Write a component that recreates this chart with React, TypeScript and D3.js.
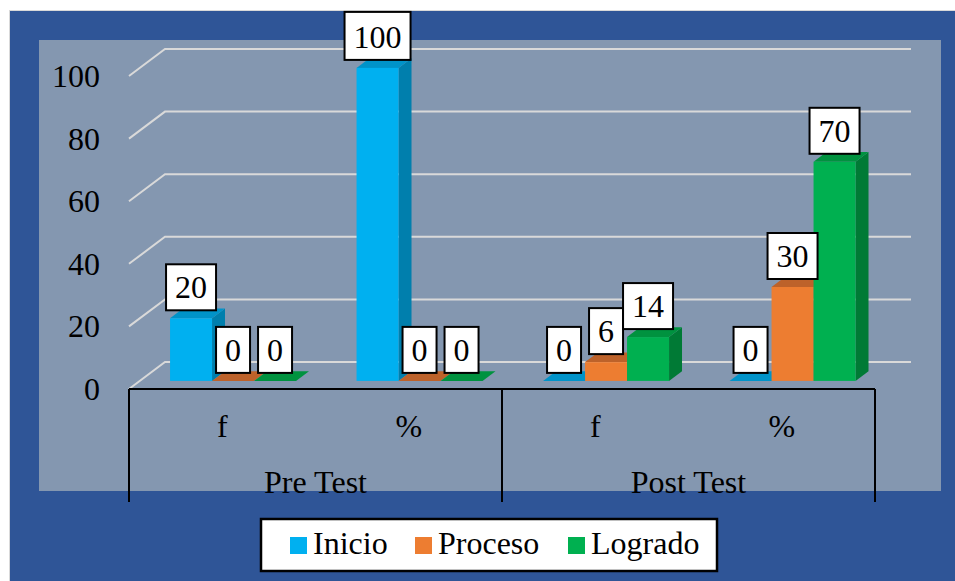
import { useEffect, useRef } from "react";
import * as d3 from "d3";

// chart data
const groups = ["Pre Test", "Post Test"];
const subCategories = ["f", "%"];
const seriesNames = ["Inicio", "Proceso", "Logrado"];
const inicio = [20, 100, 0, 0];
const proceso = [0, 0, 6, 30];
const logrado = [0, 0, 14, 70];
const yTicks = [0, 20, 40, 60, 80, 100];

const seriesColors = [
  { front: "#00B0F0", top: "#0093C9", side: "#007FAD" },
  { front: "#ED7D31", top: "#BD622A", side: "#B25C22" },
  { front: "#00B050", top: "#00923F", side: "#007A35" },
];

const W = 955;
const H = 581;
const FONT = "'Liberation Serif', 'Times New Roman', serif";

export default function App() {
  const ref = useRef<SVGSVGElement | null>(null);

  useEffect(() => {
    if (!ref.current) return;
    const svg = d3.select(ref.current);
    svg.selectAll("*").remove();

    const values = [inicio, proceso, logrado];
    const cats = groups.flatMap(g => subCategories.map(s => `${g}|${s}`));

    // depth projection (3D look)
    const DX = 36;
    const DY = 27;
    const z0 = 0.3;
    const z1 = 0.66;

    const x = d3.scaleBand().domain(cats).range([129, 875]);
    const groupW = 126;
    const x1 = d3.scaleBand().domain(seriesNames).range([0, groupW]);
    const y = d3.scaleLinear().domain([0, 100]).range([389, 76]);

    // backgrounds
    svg.append("rect").attr("x", 9).attr("y", 10).attr("width", W - 9).attr("height", H - 10).attr("fill", "#D9D9D9");
    svg.append("rect").attr("x", 10).attr("y", 11).attr("width", W - 10).attr("height", H - 11).attr("fill", "#2F5597");
    svg.append("rect").attr("x", 39).attr("y", 40).attr("width", 902).attr("height", 451).attr("fill", "#8497B0");

    // gridlines
    const x0 = x.range()[0];
    const xEnd = x.range()[1];
    svg.append("g")
      .selectAll("path")
      .data(yTicks)
      .join("path")
      .attr("d", v => `M${x0},${y(v)}L${x0 + DX},${y(v) - DY}L${xEnd + DX},${y(v) - DY}`)
      .attr("fill", "none")
      .attr("stroke", "#D9D9D9")
      .attr("stroke-width", 2);

    // y tick labels
    svg.append("g")
      .selectAll("text")
      .data(yTicks)
      .join("text")
      .attr("x", 100)
      .attr("y", v => y(v) + 11)
      .attr("text-anchor", "end")
      .attr("font-family", FONT)
      .attr("font-size", 32)
      .attr("fill", "#000")
      .text(v => String(v));

    // bars
    const bars = svg.append("g");
    const labelData: { cx: number; top: number; v: number }[] = [];
    cats.forEach((c, ci) => {
      const gx = (x(c) as number) + (x.bandwidth() - groupW) / 2;
      seriesNames.forEach((s, si) => {
        const v = values[si][ci];
        const col = seriesColors[si];
        const fx = gx + (x1(s) as number) + z0 * DX;
        const bw = x1.bandwidth();
        const yb = y(0) - z0 * DY;
        const yt = y(v) - z0 * DY;
        const ddx = (z1 - z0) * DX;
        const ddy = (z1 - z0) * DY;
        // side
        if (v > 0) {
          bars.append("path")
            .attr("d", `M${fx + bw},${yb}L${fx + bw + ddx},${yb - ddy}L${fx + bw + ddx},${yt - ddy}L${fx + bw},${yt}Z`)
            .attr("fill", col.side);
        }
        // top
        bars.append("path")
          .attr("d", `M${fx},${yt}L${fx + ddx},${yt - ddy}L${fx + bw + ddx},${yt - ddy}L${fx + bw},${yt}Z`)
          .attr("fill", col.top);
        // front
        if (v > 0) {
          bars.append("rect")
            .attr("x", fx)
            .attr("y", yt)
            .attr("width", bw)
            .attr("height", yb - yt)
            .attr("fill", col.front);
        }
        labelData.push({ cx: fx + bw / 2, top: yt, v });
      });
    });

    // data labels
    const lbl = svg.append("g");
    labelData.forEach(d => {
      const txt = String(d.v);
      const bw = txt.length * 16 + 18;
      const bh = txt.length > 2 ? 48 : 46;
      const bottom = d.top - 8;
      lbl.append("rect")
        .attr("x", d.cx - bw / 2)
        .attr("y", bottom - bh)
        .attr("width", bw)
        .attr("height", bh)
        .attr("fill", "#fff")
        .attr("stroke", "#000")
        .attr("stroke-width", 2);
      lbl.append("text")
        .attr("x", d.cx)
        .attr("y", bottom - 12)
        .attr("text-anchor", "middle")
        .attr("font-family", FONT)
        .attr("font-size", 32)
        .text(txt);
    });

    // category axis
    const axis = svg.append("g").attr("stroke", "#000").attr("stroke-width", 2);
    axis.append("line").attr("x1", x0).attr("x2", xEnd).attr("y1", y(0)).attr("y2", y(0));
    const seps = [x0, x(`${groups[1]}|${subCategories[0]}`) as number, xEnd];
    seps.forEach(sx => {
      axis.append("line").attr("x1", sx).attr("x2", sx).attr("y1", y(0)).attr("y2", 502);
    });

    svg.append("g")
      .selectAll("text")
      .data(cats)
      .join("text")
      .attr("x", c => (x(c) as number) + x.bandwidth() / 2)
      .attr("y", 437)
      .attr("text-anchor", "middle")
      .attr("font-family", FONT)
      .attr("font-size", 32)
      .text(c => c.split("|")[1]);

    svg.append("g")
      .selectAll("text")
      .data(groups)
      .join("text")
      .attr("x", g => (x(`${g}|${subCategories[0]}`) as number) + x.bandwidth())
      .attr("y", 493)
      .attr("text-anchor", "middle")
      .attr("font-family", FONT)
      .attr("font-size", 32)
      .text(g => g);

    // legend
    const leg = svg.append("g");
    leg.append("rect")
      .attr("x", 261).attr("y", 519).attr("width", 456).attr("height", 52)
      .attr("fill", "#fff").attr("stroke", "#000").attr("stroke-width", 2.5);
    const legX = [290, 415, 568];
    seriesNames.forEach((s, i) => {
      leg.append("rect")
        .attr("x", legX[i]).attr("y", 537).attr("width", 17).attr("height", 17)
        .attr("fill", seriesColors[i].front);
      leg.append("text")
        .attr("x", legX[i] + 23).attr("y", 554)
        .attr("font-family", FONT).attr("font-size", 32)
        .text(s);
    });
  }, []);

  return (
    <svg
      ref={ref}
      width={W}
      height={H}
      style={{ position: "absolute", left: 0, top: 0, background: "#fff" }}
      role="img"
      aria-label="Pre Test / Post Test"
    />
  );
}
